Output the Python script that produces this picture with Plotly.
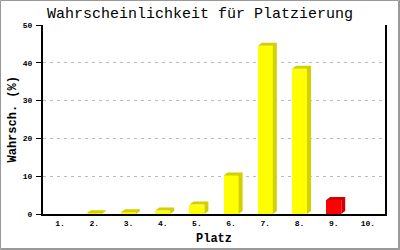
import plotly.graph_objects as go

# ---- data ----
places = [1, 2, 3, 4, 5, 6, 7, 8, 9, 10]
tick_labels = ["1.", "2.", "3.", "4.", "5.", "6.", "7.", "8.", "9.", "10."]
probabilities = [0.0, 0.2, 0.45, 0.9, 2.5, 10.2, 44.5, 38.4, 3.7, 0.0]
highlight = [False, False, False, False, False, False, False, False, True, False]

# ---- layout constants ----
W, H = 400, 250
ML, MR, MT, MB = 43, 15, 25, 36
PW, PH = W - ML - MR, H - MT - MB
XMIN, XMAX = 0.5, 10.5
YMIN, YMAX = 0, 50
BAR_PX = 15
DX_PX, DY_PX = 4, 3

ux = (XMAX - XMIN) / PW   # data units per px (x)
uy = (YMAX - YMIN) / PH   # data units per px (y)
bw = BAR_PX * ux
dx = DX_PX * ux
dy = DY_PX * uy

front_cols = ["#ff0000" if h else "#ffff00" for h in highlight]

fig = go.Figure()

# side/top faces (3D effect) as polygons, grouped by colour
for is_hl, side_col in [(False, "#d2d000"), (True, "#d20000")]:
    xs, ys = [], []
    for x, v, h in zip(places, probabilities, highlight):
        if h != is_hl or v <= 0:
            continue
        l, r = x - bw / 2, x + bw / 2
        xs += [l, l + dx, r + dx, r + dx, r, r, l, None]
        ys += [v, v + dy, v + dy, dy, 0, v, v, None]
    if xs:
        fig.add_trace(go.Scatter(x=xs, y=ys, mode="none", fill="toself",
                                 fillcolor=side_col, hoverinfo="skip",
                                 showlegend=False))

fig.add_trace(go.Bar(x=places, y=probabilities, width=bw,
                     marker=dict(color=front_cols, line=dict(width=0)),
                     showlegend=False))


def px_x(p):
    return (p - ML) / PW


def px_y(p):
    return (H - MB - p) / PH


# outer grey frame
fig.add_shape(type="rect", xref="paper", yref="paper",
              x0=px_x(0.5), x1=px_x(398.5), y0=px_y(0.5), y1=px_y(248.5),
              line=dict(color="#999999", width=1), layer="above")
fig.add_shape(type="line", xref="paper", yref="paper",
              x0=px_x(399.5), x1=px_x(399.5), y0=px_y(0), y1=px_y(250),
              line=dict(color="#999999", width=1), layer="above")
fig.add_shape(type="line", xref="paper", yref="paper",
              x0=px_x(0), x1=px_x(400), y0=px_y(249.5), y1=px_y(249.5),
              line=dict(color="#999999", width=1), layer="above")

mono = "Liberation Mono"
title_font = dict(family=mono, size=12, color="black", weight="bold")
tick_font = dict(family=mono, size=8, color="black", weight="bold")

# axis titles as annotations (exact placement)
fig.add_annotation(text="Platz", xref="paper", yref="paper",
                   x=0.5, y=px_y(239), xanchor="center", yanchor="middle",
                   showarrow=False, font=title_font)
fig.add_annotation(text="Wahrsch. (%)", xref="paper", yref="paper",
                   x=px_x(12.5), y=px_y(120), xanchor="center", yanchor="middle",
                   textangle=-90, showarrow=False, font=title_font)

fig.update_layout(
    template="none",
    width=W, height=H,
    margin=dict(l=ML, r=MR, t=MT, b=MB, pad=0, autoexpand=False),
    paper_bgcolor="white", plot_bgcolor="white",
    bargap=0,
    title=dict(text="Wahrscheinlichkeit für Platzierung",
               font=dict(family=mono, size=15, color="black"),
               x=0.5, xref="container", xanchor="center",
               y=1 - 13 / H, yref="container", yanchor="middle"),
    xaxis=dict(range=[XMIN, XMAX], tickmode="array", tickvals=places,
               ticktext=tick_labels, showgrid=False, zeroline=False,
               showline=True, linecolor="black", linewidth=2, ticks="",
               ticklabelstandoff=0,
               tickfont=tick_font, automargin=False, fixedrange=True),
    yaxis=dict(range=[YMIN, YMAX], dtick=10, showgrid=True,
               gridcolor="#bbbbbb", griddash="3px,4px", gridwidth=1,
               zeroline=False, showline=True, linecolor="black", linewidth=2,
               mirror=True, ticks="outside", ticklen=5, tickcolor="black",
               tickwidth=1, ticklabelstandoff=2,
               tickfont=tick_font, automargin=False, fixedrange=True),
)

fig.write_html("out.html")
